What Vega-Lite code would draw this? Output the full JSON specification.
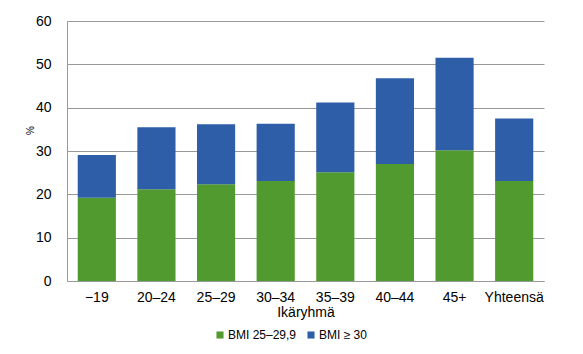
{
  "$schema": "https://vega.github.io/schema/vega-lite/v6.json",
  "autosize": {"type": "none"},
  "width": 477,
  "height": 260,
  "padding": {"left": 67, "top": 21, "right": 39, "bottom": 73},
  "background": "white",
  "config": {
    "font": "Liberation Sans",
    "view": {"stroke": null},
    "axis": {"labelFont": "Liberation Sans", "titleFont": "Liberation Sans", "labelColor": "#000", "titleColor": "#000"}
  },
  "data": {
    "values": [
      {"age": "−19", "group": "BMI 25–29,9", "value": 19.2},
      {"age": "−19", "group": "BMI ≥ 30", "value": 9.9},
      {"age": "20–24", "group": "BMI 25–29,9", "value": 21.2},
      {"age": "20–24", "group": "BMI ≥ 30", "value": 14.3},
      {"age": "25–29", "group": "BMI 25–29,9", "value": 22.3},
      {"age": "25–29", "group": "BMI ≥ 30", "value": 13.9},
      {"age": "30–34", "group": "BMI 25–29,9", "value": 23.1},
      {"age": "30–34", "group": "BMI ≥ 30", "value": 13.2},
      {"age": "35–39", "group": "BMI 25–29,9", "value": 25.1},
      {"age": "35–39", "group": "BMI ≥ 30", "value": 16.1},
      {"age": "40–44", "group": "BMI 25–29,9", "value": 27.0},
      {"age": "40–44", "group": "BMI ≥ 30", "value": 19.8},
      {"age": "45+", "group": "BMI 25–29,9", "value": 30.2},
      {"age": "45+", "group": "BMI ≥ 30", "value": 21.3},
      {"age": "Yhteensä", "group": "BMI 25–29,9", "value": 23.1},
      {"age": "Yhteensä", "group": "BMI ≥ 30", "value": 14.4}
    ]
  },
  "mark": {"type": "bar"},
  "encoding": {
    "x": {
      "field": "age", "type": "nominal", "sort": null,
      "scale": {"paddingInner": 0.36, "paddingOuter": 0.18},
      "axis": {
        "title": "Ikäryhmä", "labelAngle": 0, "labelFontSize": 14, "titleFontSize": 14,
        "titleFontWeight": "normal", "ticks": false, "labelPadding": 9, "titlePadding": 1,
        "domainColor": "#999", "domainWidth": 1
      }
    },
    "y": {
      "field": "value", "type": "quantitative", "stack": "zero",
      "scale": {"domain": [0, 60]},
      "axis": {
        "title": "%", "values": [0, 10, 20, 30, 40, 50, 60], "labelFontSize": 14,
        "titleFontSize": 10, "titleFontWeight": "normal", "ticks": false, "labelPadding": 16,
        "titleX": -32, "titleY": 109, "titleAngle": -90, "titleAlign": "center",
        "domainColor": "#999", "gridColor": "#999", "gridWidth": 1
      }
    },
    "color": {
      "field": "group", "type": "nominal",
      "scale": {"domain": ["BMI 25–29,9", "BMI ≥ 30"], "range": ["#519a2f", "#2e5ea8"]},
      "legend": {
        "title": null, "orient": "none", "direction": "horizontal",
        "legendX": 147, "legendY": 308, "symbolType": "square", "symbolSize": 50,
        "labelFontSize": 12, "labelFont": "Liberation Sans", "labelColor": "#000", "columnPadding": 8, "symbolOffset": 0, "labelOffset": 2
      }
    },
    "order": {"field": "group", "type": "nominal", "sort": "ascending"}
  }
}
